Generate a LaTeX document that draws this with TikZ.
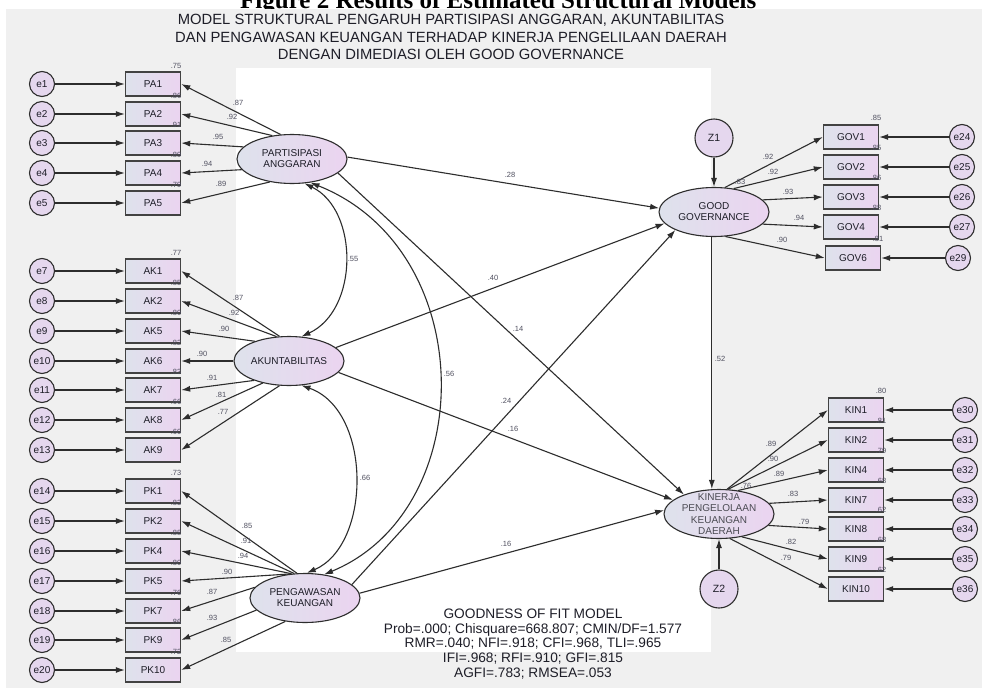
\documentclass[tikz,border=0pt]{standalone}
\usepackage{fontspec}
\setmainfont{Liberation Sans}
\newfontfamily\capfont{Liberation Serif}
\usetikzlibrary{shapes.geometric,arrows.meta}
\definecolor{panelgrey}{RGB}{240,240,240}
\definecolor{errfill}{RGB}{229,215,238}
\definecolor{shadeleft}{RGB}{222,226,236}
\definecolor{shaderight}{RGB}{235,212,240}
\definecolor{linegrey}{RGB}{45,45,45}
\definecolor{labgrey}{RGB}{80,80,96}
\definecolor{textdark}{RGB}{30,30,40}

\tikzset{
  errnode/.style={circle, draw=linegrey, line width=1.1pt, fill=errfill, minimum size=25pt, inner sep=0pt, text=textdark, font=\fontsize{10}{11}\selectfont},
  obsbox/.style={rectangle, draw=linegrey!90, line width=1.4pt, left color=shadeleft, right color=shaderight, minimum width=55pt, minimum height=24pt, inner sep=0pt, text=textdark, font=\fontsize{10}{11}\selectfont},
  latnode/.style={ellipse, draw=linegrey, line width=1.1pt, left color=shadeleft, right color=shaderight, minimum width=110pt, minimum height=49pt, inner sep=0pt, align=center, text=textdark, font=\fontsize{10}{11}\selectfont},
  kinlab/.style={inner sep=0pt, align=center, text=textdark!80, font=\fontsize{10}{11.5}\selectfont},
  resnode/.style={circle, draw=linegrey, line width=1.1pt, fill=errfill, minimum size=38pt, inner sep=0pt, text=textdark, font=\fontsize{10.5}{11}\selectfont},
  coeflab/.style={inner sep=0pt, text=labgrey, font=\fontsize{7.5}{8}\selectfont},
  regpath/.style={draw=linegrey, line width=1.1pt, -{Latex[length=9pt,width=6pt]}},
  covpath/.style={draw=linegrey, line width=1.1pt, {Latex[length=9pt,width=6pt]}-{Latex[length=9pt,width=6pt]}},
}

\begin{document}
\begin{tikzpicture}[x=1pt,y=-1pt]
\useasboundingbox (0,0) rectangle (987,688);
% caption, panel and white field
\fill[white] (0,0) rectangle (987,688);
\node[anchor=base west, inner sep=0pt, font=\capfont\bfseries\fontsize{25}{28}\selectfont] (caption) at (240,9) {Figure 2 Results of Estimated Structural Models};
\fill[panelgrey] (6,9) rectangle (982,688);
\fill[white] (236,68) rectangle (711,652);

\node[align=center, text=textdark, font=\fontsize{14.8}{17.5}\selectfont] (title) at (451,37) {MODEL STRUKTURAL PENGARUH PARTISIPASI ANGGARAN, AKUNTABILITAS\\DAN PENGAWASAN KEUANGAN TERHADAP KINERJA PENGELILAAN DAERAH\\DENGAN DIMEDIASI OLEH GOOD GOVERNANCE};

% latent variables
\node[latnode] (PAR) at (292,159) {PARTISIPASI\\ANGGARAN};
\node[latnode] (AKU) at (289,361) {AKUNTABILITAS};
\node[latnode] (PEN) at (305,598) {PENGAWASAN\\KEUANGAN};
\node[latnode] (GG) at (714,212) {GOOD\\GOVERNANCE};
\node[latnode, label={[kinlab]center:{KINERJA\\PENGELOLAAN\\KEUANGAN\\DAERAH}}] (KIN) at (719,514) {};
\node[resnode] (Z1) at (714,138) {Z1};
\node[resnode] (Z2) at (719,589) {Z2};

% partisipasi anggaran
\foreach \en/\ob/\y/\rsq/\ang/\lx/\ly/\ld in {
  e1/PA1/84/.75/115/238/103/.87,
  e2/PA2/114/.86/130/232/117/.92,
  e3/PA3/143/.91/166/218/137/.95,
  e4/PA4/173/.89/192/207/164/.94,
  e5/PA5/203/.79/226/221/184/.89}
{
  \node[errnode] (\en) at (42,\y) {\en};
  \node[obsbox] (\ob) at (153,\y) {\ob};
  \draw[regpath] (\en) -- (\ob);
  \draw[regpath] (PAR.\ang) -- (\ob.east);
  \node[coeflab] at (176,\y-18.5) {\rsq};
  \node[coeflab] at (\lx,\ly) {\ld};
}

% akuntabilitas
\foreach \en/\ob/\y/\rsq/\ang/\lx/\ly/\ld in {
  e7/AK1/271/.77/111/238/298/.87,
  e8/AK2/301/.85/117/234/313/.92,
  e9/AK5/331/.80/150/224/329/.90,
  e10/AK6/361/.82/180/202/354/.90,
  e11/AK7/390/.83/209/212/378/.91,
  e12/AK8/420/.66/220/221/395/.81,
  e13/AK9/450/.60/249/223/412/.77}
{
  \node[errnode] (\en) at (42,\y) {\en};
  \node[obsbox] (\ob) at (153,\y) {\ob};
  \draw[regpath] (\en) -- (\ob);
  \draw[regpath] (AKU.\ang) -- (\ob.east);
  \node[coeflab] at (176,\y-18.5) {\rsq};
  \node[coeflab] at (\lx,\ly) {\ld};
}

% pengawasan keuangan
\foreach \en/\ob/\y/\rsq/\ang/\lx/\ly/\ld in {
  e14/PK1/491/.73/108/247/526/.85,
  e15/PK2/521/.83/114/246/541/.91,
  e16/PK4/551/.88/119/243/556/.94,
  e17/PK5/581/.80/123/227/572/.90,
  e18/PK7/611/.76/168/212/592/.87,
  e19/PK9/640/.86/194/212/618/.93,
  e20/PK10/670/.72/230/226/640/.85}
{
  \node[errnode] (\en) at (42,\y) {\en};
  \node[obsbox] (\ob) at (153,\y) {\ob};
  \draw[regpath] (\en) -- (\ob);
  \draw[regpath] (PEN.\ang) -- (\ob.east);
  \node[coeflab] at (176,\y-18.5) {\rsq};
  \node[coeflab] at (\lx,\ly) {\ld};
}

% good governance
\foreach \en/\ex/\ob/\bx/\y/\rsq/\ang/\lx/\ly/\ld in {
  e24/962/GOV1/851/137/.85/66/768/157/.92,
  e25/962/GOV2/851/167/.85/50/773/172/.92,
  e26/962/GOV3/851/197/.86/14/788/192/.93,
  e27/962/GOV4/851/227/.88/-14/799/218/.94,
  e29/958/GOV6/853/258/.81/-65/782/240/.90}
{
  \node[errnode] (\en) at (\ex,\y) {\en};
  \node[obsbox] (\ob) at (\bx,\y) {\ob};
  \draw[regpath] (\en) -- (\ob);
  \draw[regpath] (GG.\ang) -- (\ob.west);
  \node[coeflab] at (\bx+25,\y-19) {\rsq};
  \node[coeflab] at (\lx,\ly) {\ld};
}

% kinerja pengelolaan keuangan daerah
\foreach \en/\ob/\y/\rsq/\ang/\lx/\ly/\ld in {
  e30/KIN1/410/.80/72/771/444/.89,
  e31/KIN2/440/.81/70/773/459/.90,
  e32/KIN4/470/.79/51/779/474/.89,
  e33/KIN7/500/.68/12/793/494/.83,
  e34/KIN8/529/.62/-13/804/522/.79,
  e35/KIN9/559/.68/-45/791/542/.82,
  e36/KIN10/589/.62/-66/786/558/.79}
{
  \node[errnode] (\en) at (965,\y) {\en};
  \node[obsbox] (\ob) at (856,\y) {\ob};
  \draw[regpath] (\en) -- (\ob);
  \draw[regpath] (KIN.\ang) -- (\ob.west);
  \node[coeflab] at (881,\y-19) {\rsq};
  \node[coeflab] at (\lx,\ly) {\ld};
}

% structural paths
\draw[regpath] (PAR.2) -- (GG.176);
\draw[regpath] (AKU.16) -- (GG.193);
\draw[regpath] (PEN.16) -- (GG.205);
\draw[regpath] (PAR.-17) -- (KIN.151);
\draw[regpath] (AKU.-13) -- (KIN.163);
\draw[regpath] (PEN.5) -- (KIN.176);
\draw[regpath] (GG.-95) -- (GG.-95 |- KIN.north);
\draw[regpath] (Z1) -- (GG);
\draw[regpath] (Z2) -- (KIN);
\node[coeflab] at (510,175) {.28};
\node[coeflab] at (493,278) {.40};
\node[coeflab] at (506,401) {.24};
\node[coeflab] at (518,329) {.14};
\node[coeflab] at (513,429) {.16};
\node[coeflab] at (506,544) {.16};
\node[coeflab] at (720,359) {.52};
\node[coeflab] at (740,182) {.83};
\node[coeflab] at (746,486) {.76};

% covariances
\draw[covpath] (PAR.-63) .. controls (359,210) and (359,310) .. (AKU.63);
\draw[covpath] (AKU.-63) .. controls (372,410) and (372,545) .. (PEN.86);
\draw[covpath] (PAR.-52) .. controls (480,250) and (480,510) .. (PEN.51);
\node[coeflab] at (353,259) {.55};
\node[coeflab] at (365,478) {.66};
\node[coeflab] at (449,374) {.56};

% fit indices
\node[align=center, text=textdark, font=\fontsize{13.7}{14.7}\selectfont] (fit) at (533,644) {GOODNESS OF FIT MODEL\\Prob=.000; Chisquare=668.807; CMIN/DF=1.577\\RMR=.040; NFI=.918; CFI=.968, TLI=.965\\IFI=.968; RFI=.910; GFI=.815\\AGFI=.783; RMSEA=.053};
\end{tikzpicture}
\end{document}
